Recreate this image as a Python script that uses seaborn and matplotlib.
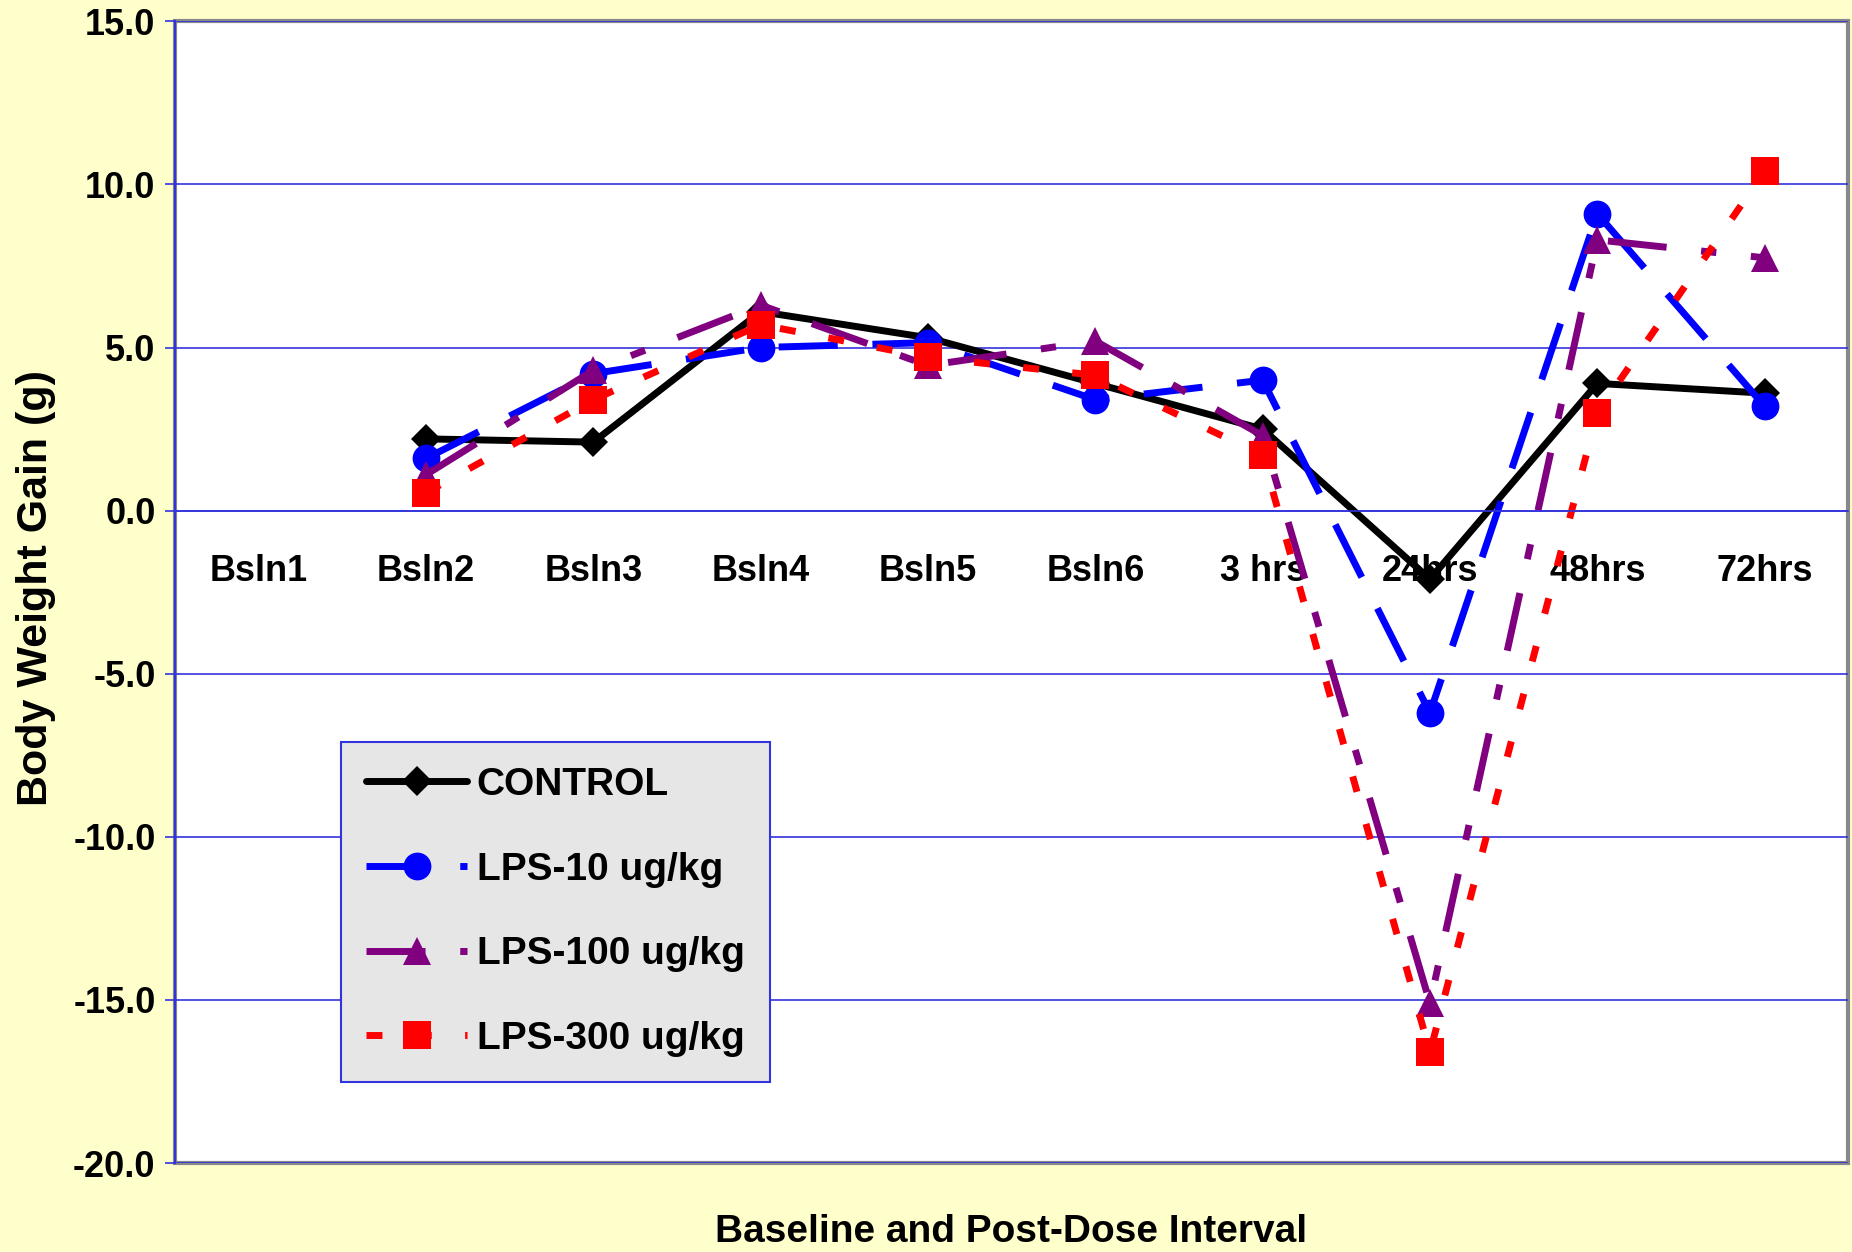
import numpy as np
import matplotlib.pyplot as plt
import pandas as pd
import seaborn as sns

intervals = ['Bsln1', 'Bsln2', 'Bsln3', 'Bsln4', 'Bsln5', 'Bsln6',
             '3 hrs', '24hrs', '48hrs', '72hrs']
control = [np.nan, 2.2, 2.1, 6.1, 5.3, 3.9, 2.5, -2.1, 3.9, 3.6]
lps10 = [np.nan, 1.6, 4.2, 5.0, 5.15, 3.4, 4.0, -6.2, 9.1, 3.2]
lps100 = [np.nan, 1.1, 4.3, 6.3, 4.45, 5.2, 2.3, -15.1, 8.3, 7.75]
lps300 = [np.nan, 0.55, 3.4, 5.7, 4.7, 4.15, 1.7, -16.6, 3.0, 10.4]

series = ['CONTROL', 'LPS-10 ug/kg', 'LPS-100 ug/kg', 'LPS-300 ug/kg']
colors = ['#000000', '#0000FF', '#800080', '#FF0000']
markers = ['D', 'o', '^', 's']
msizes = [15, 20, 20, 20]
styles = ['-', (0, (8.5, 5)), (0, (8.5, 5, 2.2, 5)), (0, (2.3, 4.8))]

df = pd.DataFrame({'pos': np.arange(len(intervals)), 'CONTROL': control,
                   'LPS-10 ug/kg': lps10, 'LPS-100 ug/kg': lps100,
                   'LPS-300 ug/kg': lps300})

sns.set_style('white')
plt.rcParams['font.family'] = ['Liberation Sans', 'DejaVu Sans']
plt.rcParams['font.weight'] = 'bold'
plt.rcParams['text.color'] = 'black'
plt.rcParams['axes.labelcolor'] = 'black'
plt.rcParams['xtick.labelcolor'] = 'black'
plt.rcParams['ytick.labelcolor'] = 'black'

fig = plt.figure(figsize=(18.52, 12.52), dpi=100, facecolor='#FFFFCC')
ax = fig.add_axes([0.0945, 0.071, 0.9035, 0.912])
ax.set_facecolor('white')

for name, c, m, ms, ls in zip(series, colors, markers, msizes, styles):
    sns.lineplot(data=df, x='pos', y=name, color=c, marker=m, markersize=ms,
                 mew=0, lw=5, linestyle=ls, label=name, ax=ax)

ax.set_xlim(-0.5, len(intervals) - 0.5)
ax.set_ylim(-20, 15)
ax.set_yticks(np.arange(-20, 16, 5))
ax.set_yticklabels([f'{v:.1f}' for v in np.arange(-20, 16, 5)])
ax.set_xticks(np.arange(len(intervals)))
ax.set_xticklabels(intervals)
ax.set_xticks(np.arange(len(intervals) + 1) - 0.5, minor=True)
ax.tick_params(axis='x', which='major', length=0, pad=31, labelsize=26)
ax.tick_params(axis='x', which='minor', length=7, width=1.2, color='#3333DD',
               direction='out')
ax.tick_params(axis='y', length=7, width=1.2, color='#3333DD', direction='out',
               pad=7, labelsize=26, left=True)
ax.grid(axis='y', color='#3333DD', lw=1.2)
ax.grid(axis='x', visible=False)

for s in ['top', 'right']:
    ax.spines[s].set_visible(False)
ax.spines['bottom'].set_position(('data', 0))
ax.spines['bottom'].set_color('#3333DD')
ax.spines['bottom'].set_linewidth(1.2)
ax.spines['left'].set_color('#3333DD')
ax.spines['left'].set_linewidth(1.5)
ax.patch.set_edgecolor('#888888')
ax.patch.set_linewidth(3)

ax.set_xlabel('')
fig.text(0.546, 0.016, 'Baseline and Post-Dose Interval', ha='center',
         va='center', fontsize=28, fontweight='bold')
ax.set_ylabel('Body Weight Gain (g)', fontsize=31, fontweight='bold')
ax.yaxis.set_label_coords(-0.071, 0.504)

leg = ax.legend(loc='lower left', bbox_to_anchor=(0.099, 0.071),
                borderaxespad=0, fontsize=28, frameon=True, fancybox=False,
                facecolor='#E6E6E6', edgecolor='#3333DD', framealpha=1,
                handlelength=2.6, labelspacing=1.25, borderpad=0.65,
                handletextpad=0.25)
leg.get_frame().set_linewidth(1.5)

fig.savefig('out.png', dpi=100, facecolor=fig.get_facecolor())
